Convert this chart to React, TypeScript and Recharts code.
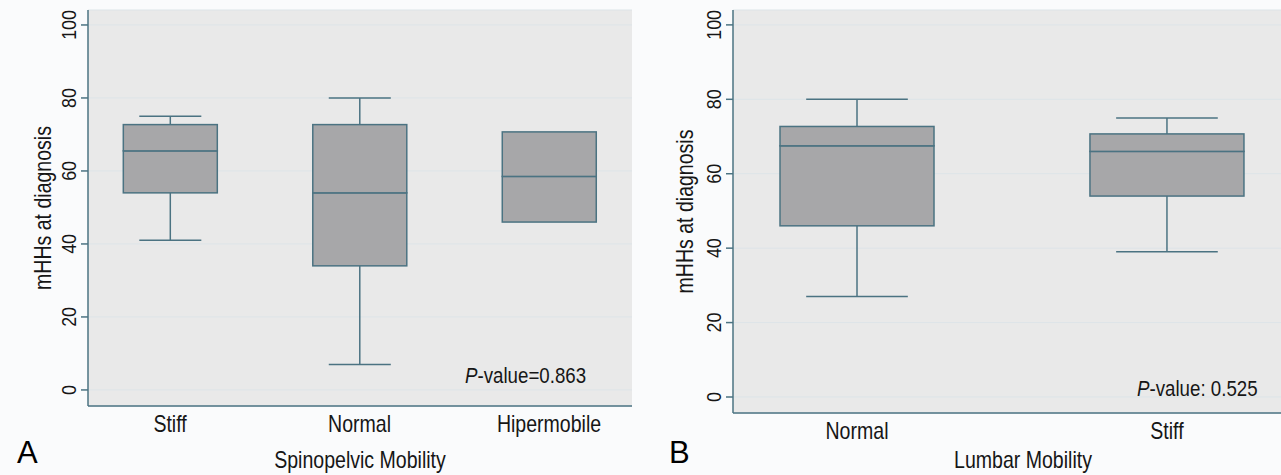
import React from "react";
import { ComposedChart, Bar, XAxis, YAxis, CartesianGrid, Label } from "recharts";

// panel A - spinopelvic mobility
const catsA = ["Stiff", "Normal", "Hipermobile"];
const minA = [41, 7, 46];
const q1A = [54, 34, 46];
const medA = [65.5, 54, 58.5];
const q3A = [72.7, 72.7, 70.7];
const maxA = [75, 80, 70.7];

// panel B - lumbar mobility
const catsB = ["Normal", "Stiff"];
const minB = [27, 39];
const q1B = [46, 54];
const medB = [67.5, 66];
const q3B = [72.7, 70.7];
const maxB = [80, 75];

const yTicks = [0, 20, 40, 60, 80, 100];

const FONT = "'Liberation Sans', Arial, Helvetica, sans-serif";
const TEXT = "#161616";
const LINE = "#4b7382";
const BOX = "#a7a7a9";
const BG = "#e9e9e9";
const SQUEEZE = 0.85; // the original type is a narrow helvetica

function buildRows(cats, mins, q1s, meds, q3s, maxs) {
  return cats.map((name, i) => ({
    pos: i + 1,
    name,
    base: mins[i],
    lw: q1s[i] - mins[i],
    lb: meds[i] - q1s[i],
    ub: q3s[i] - meds[i],
    uw: maxs[i] - q3s[i],
  }));
}

const rowsA = buildRows(catsA, minA, q1A, medA, q3A, maxA);
const rowsB = buildRows(catsB, minB, q1B, medB, q3B, maxB);

// narrow text: scale horizontally around the anchor point
const NText = ({ x, y, size, angle = 0, children }) => (
  <text
    transform={`translate(${x} ${y}) rotate(${angle}) scale(${SQUEEZE} 1)`}
    x={0}
    y={0}
    textAnchor="middle"
    dominantBaseline="central"
    fontFamily={FONT}
    fontSize={size}
    fill={TEXT}
  >
    {children}
  </text>
);

const whisker = (top) => (props) => {
  const { x, y, width, height } = props;
  if (!height || Math.abs(height) < 0.5) return <g />;
  const cx = x + width / 2;
  const half = width * 0.33;
  const capY = top ? y : y + height;
  return (
    <g>
      <line x1={cx} x2={cx} y1={y} y2={y + height} stroke={LINE} strokeWidth={1.5} />
      <line x1={cx - half} x2={cx + half} y1={capY} y2={capY} stroke={LINE} strokeWidth={1.5} />
    </g>
  );
};

const boxShape = (props) => {
  const { x, y, width, height } = props;
  return <rect x={x} y={y} width={width} height={height} fill={BOX} stroke={LINE} strokeWidth={1.5} />;
};

const YTick = ({ x, y, payload }) => (
  <NText x={x - 13} y={y} size={21} angle={-90}>{payload.value}</NText>
);

const makeXTick = (cats) => ({ x, y, payload }) => (
  <NText x={x} y={y + 16} size={23}>{cats[payload.value - 1]}</NText>
);

function BoxPanel({ rows, cats, domainX, width, height, yAxisW, xAxisH, right, barSize, xTitle, titleDx, yDomain }) {
  return (
    <ComposedChart width={width} height={height} data={rows} margin={{ top: 10, right, bottom: 0, left: 0 }}>
      <CartesianGrid vertical={false} fill={BG} stroke="#dde4e8" strokeWidth={1} />
      <XAxis
        dataKey="pos"
        type="number"
        domain={domainX}
        ticks={cats.map((_, i) => i + 1)}
        allowDataOverflow
        height={xAxisH}
        tickSize={0}
        tickLine={false}
        axisLine={{ stroke: LINE, strokeWidth: 1.5 }}
        tick={makeXTick(cats)}
      >
        <Label
          content={({ viewBox }) => (
            <NText x={viewBox.x + viewBox.width / 2 + titleDx} y={460} size={23}>{xTitle}</NText>
          )}
        />
      </XAxis>
      <YAxis
        type="number"
        domain={yDomain}
        ticks={yTicks}
        allowDataOverflow
        width={yAxisW}
        tickSize={7}
        tickMargin={0}
        tickLine={{ stroke: LINE, strokeWidth: 1.5 }}
        axisLine={{ stroke: LINE, strokeWidth: 1.5 }}
        tick={YTick}
      >
        <Label
          content={({ viewBox }) => (
            <NText x={viewBox.x + viewBox.width / 2 - 1} y={viewBox.y + viewBox.height / 2} size={23} angle={-90}>
              mHHs at diagnosis
            </NText>
          )}
        />
      </YAxis>
      <Bar dataKey="base" stackId="b" barSize={barSize} fill="none" isAnimationActive={false} />
      <Bar dataKey="lw" stackId="b" barSize={barSize} shape={whisker(false)} isAnimationActive={false} />
      <Bar dataKey="lb" stackId="b" barSize={barSize} shape={boxShape} isAnimationActive={false} />
      <Bar dataKey="ub" stackId="b" barSize={barSize} shape={boxShape} isAnimationActive={false} />
      <Bar dataKey="uw" stackId="b" barSize={barSize} shape={whisker(true)} isAnimationActive={false} />
    </ComposedChart>
  );
}

const note = {
  position: "absolute",
  fontFamily: FONT,
  color: TEXT,
  lineHeight: 1,
  whiteSpace: "nowrap",
  transform: `scaleX(${SQUEEZE})`,
  transformOrigin: "left top",
} as React.CSSProperties;

const letter = {
  position: "absolute",
  fontFamily: FONT,
  color: "#000",
  fontSize: 31,
  lineHeight: 1,
} as React.CSSProperties;

export default function App() {
  return (
    <div style={{ position: "absolute", left: 0, top: 0, width: 1281, height: 475, background: "#fafbfc", overflow: "hidden" }}>
      <div style={{ position: "absolute", left: 0, top: 0 }}>
        <BoxPanel rows={rowsA} cats={catsA} domainX={[0.567, 3.438]} width={640} height={475} yAxisW={88} xAxisH={69}
          right={8} barSize={94} xTitle="Spinopelvic Mobility" titleDx={0} yDomain={[-4.4, 104.1]} />
      </div>
      <div style={{ position: "absolute", left: 640, top: 0 }}>
        <BoxPanel rows={rowsB} cats={catsB} domainX={[0.6, 2.368]} width={641} height={475} yAxisW={93} xAxisH={62}
          right={0} barSize={154} xTitle="Lumbar Mobility" titleDx={16} yDomain={[-4.3, 104]} />
      </div>
      <div style={{ ...note, left: 465, top: 365, fontSize: 22 }}><i>P</i>-value=0.863</div>
      <div style={{ ...note, left: 1137, top: 378, fontSize: 22 }}><i>P</i>-value: 0.525</div>
      <div style={{ ...letter, left: 17, top: 437 }}>A</div>
      <div style={{ ...letter, left: 669, top: 437 }}>B</div>
    </div>
  );
}
